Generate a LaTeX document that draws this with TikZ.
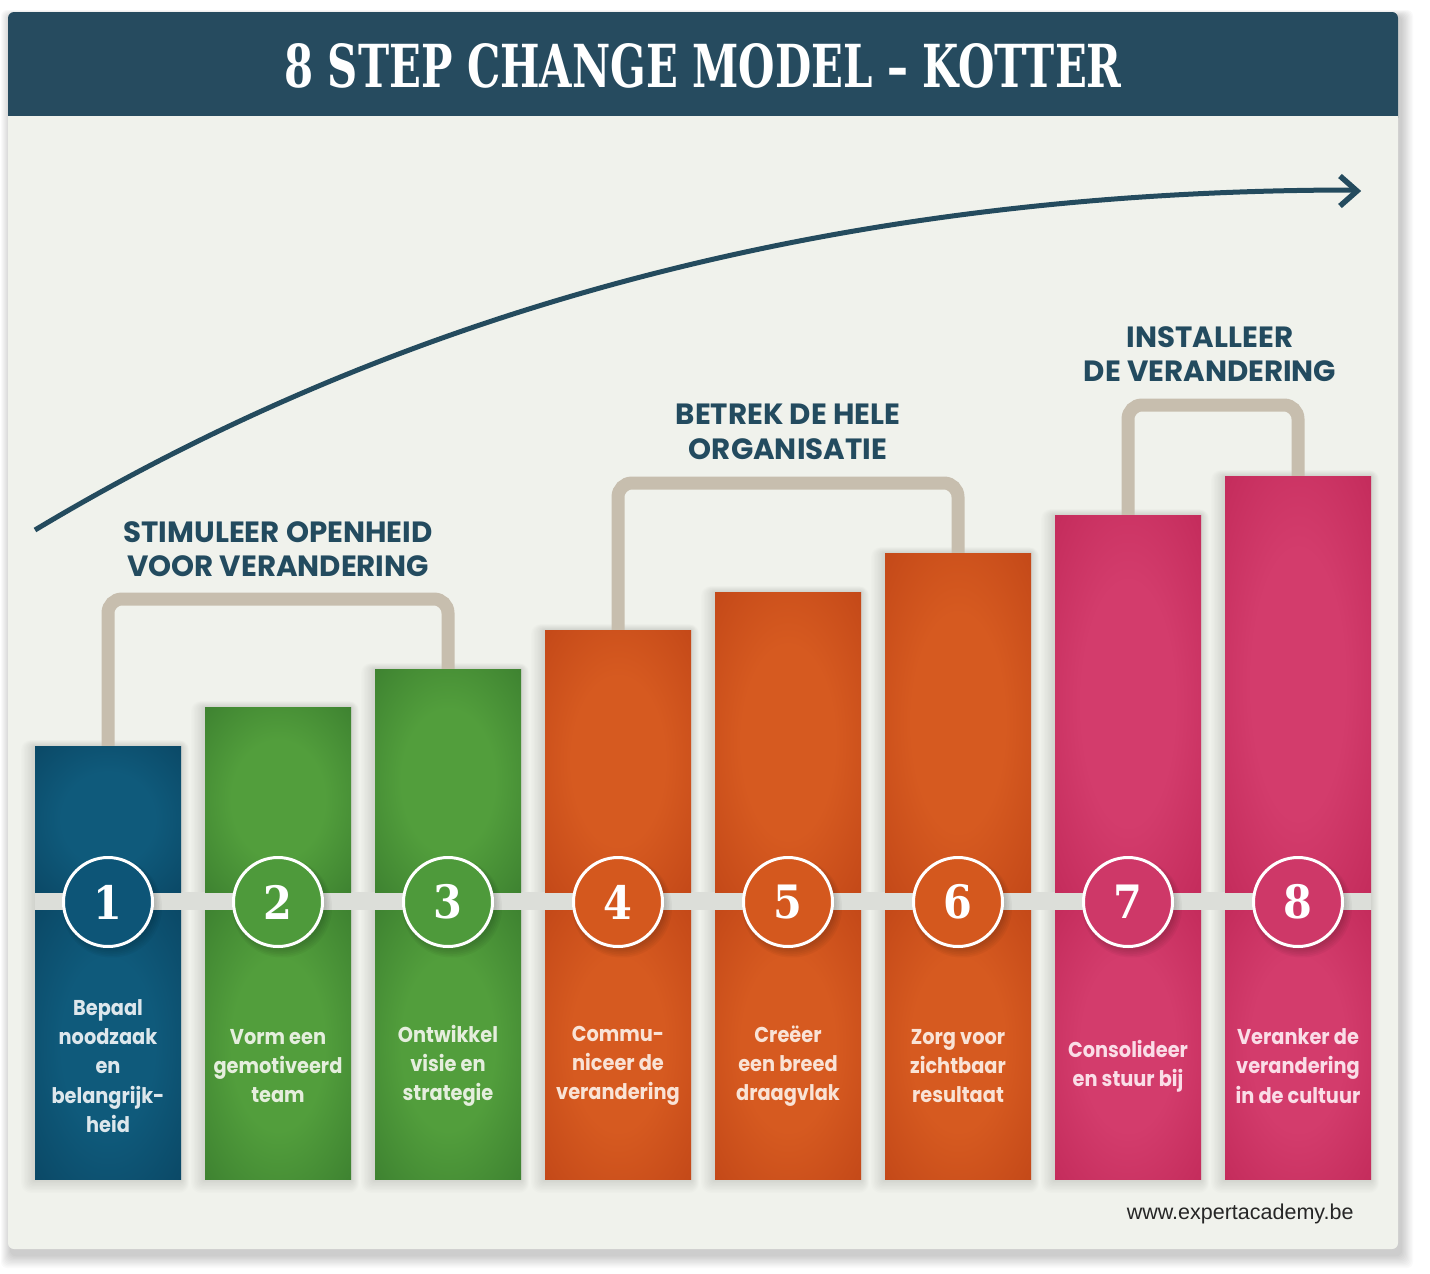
\documentclass[tikz,border=0pt]{standalone}
\usepackage{fontspec}
\setmainfont{Poppins}
\newfontfamily\barf[FakeStretch=0.9]{Poppins}
\newfontfamily\titlef{DejaVu Serif Condensed}
\newfontfamily\webf{Liberation Sans}
\definecolor{hdr}{HTML}{264B5F}
\definecolor{panelbg}{HTML}{F0F2EC}
\definecolor{bandc}{HTML}{DCDED9}
\definecolor{brk}{HTML}{C7BEAE}
\definecolor{lbl}{HTML}{234B5F}
\definecolor{arrc}{HTML}{244B5E}
\definecolor{bIn}{HTML}{0F5A7B}\definecolor{bOut}{HTML}{073A55}\definecolor{bC}{HTML}{0D5577}\definecolor{bT}{HTML}{DDE7EC}
\definecolor{gIn}{HTML}{529E3C}\definecolor{gOut}{HTML}{2D6B27}\definecolor{gC}{HTML}{4E9A3B}\definecolor{gT}{HTML}{E5EEDD}
\definecolor{oIn}{HTML}{D65A20}\definecolor{oOut}{HTML}{B43A12}\definecolor{oC}{HTML}{D4581E}\definecolor{oT}{HTML}{F9E3D6}
\definecolor{pIn}{HTML}{D33C6C}\definecolor{pOut}{HTML}{B71E4E}\definecolor{pC}{HTML}{CE3868}\definecolor{pT}{HTML}{FADDE7}
\colorlet{barin}{bIn}\colorlet{barout}{bOut}
\pgfdeclareradialshading[barin,barout]{barshade}{\pgfpoint{0bp}{0bp}}{color(0bp)=(barin); color(16bp)=(barin); color(52bp)=(barout)}
\tikzset{
  bracket/.style={draw=brk, line width=13pt, rounded corners=14pt},
  grp/.style={text=lbl, font=\bfseries\fontsize{29.3}{34.5}\selectfont, align=center, inner sep=0pt},
  bartext/.style={font=\barf\bfseries\fontsize{21.5}{29.3}\selectfont, align=center, inner sep=0pt},
  numc/.style={circle, draw=white, line width=3pt, minimum size=89pt, inner sep=0pt, text=white, font=\titlef\bfseries\fontsize{46}{46}\selectfont},
}
\begin{document}
\begin{tikzpicture}[x=1pt,y=-1pt]
\useasboundingbox (0,0) rectangle (1430,1274);
\fill[white] (0,0) rectangle (1430,1274);
% panel shadow
\foreach \k in {1,...,10}{
  \fill[black, opacity=0.02, rounded corners=6pt] (11-\k, 16-0.6*\k) rectangle (1401+1.2*\k, 1255+1.3*\k);
}
\fill[panelbg, rounded corners=6pt] (8,12) rectangle (1398,1249);
\fill[hdr, rounded corners=6pt] (8,12) rectangle (1398,124);
\fill[panelbg] (8,116) rectangle (1398,126);
\node[text=white] (title) at (703,66) {\resizebox{837pt}{44pt}{\titlef\bfseries 8 STEP CHANGE MODEL – KOTTER}};
% rising arrow
\coordinate (arrS) at (35,530);
\coordinate (arrE) at (1354,190);
\draw[arrc, line width=5pt] (arrS) .. controls (415,302) and (856,190) .. (arrE);
\draw[arrc, line width=5.5pt, miter limit=10] (1340,176) -- (1357,191) -- (1340,206);
% bar shadows and coordinates
\foreach \i/\top in {1/746,2/707,3/669,4/630,5/592,6/553,7/515,8/476}{
  \pgfmathsetmacro\xl{35+170*(\i-1)}
  \pgfmathsetmacro\xr{\xl+146}
  \pgfmathsetmacro\xc{\xl+73}
  \coordinate (t\i) at (\xc,\top);
  \foreach \k in {1,...,10}{
    \fill[black, opacity=0.012, rounded corners=\k pt] (\xl-1.4*\k,\top-0.6*\k) rectangle (\xr+0.8*\k,1179+1.4*\k);
  }
}
% brackets
\coordinate (g1) at (278,599);
\coordinate (g2) at (788,483);
\coordinate (g3) at (1212,405);
\draw[bracket] (t1) |- (g1) -| (t3);
\draw[bracket] (t4) |- (g2) -| (t6);
\draw[bracket] (t7) |- (g3) -| (t8);
% group labels
\node[grp] (lab1) at (278,549) {STIMULEER OPENHEID\\VOOR VERANDERING};
\node[grp] (lab2) at (788,432) {BETREK DE HELE\\ORGANISATIE};
\node[grp] (lab3) at (1210,354) {INSTALLEER\\DE VERANDERING};
% band
\fill[bandc] (35,892) rectangle (1371,910);
% bars
\foreach \i/\top/\cc/\txt in {1/746/b/{Bepaal\\noodzaak\\en\\belangrijk-\\heid},2/707/g/{Vorm een\\gemotiveerd\\team},3/669/g/{Ontwikkel\\visie en\\strategie},4/630/o/{Commu-\\niceer de\\verandering},5/592/o/{Creëer\\een breed\\draagvlak},6/553/o/{Zorg voor\\zichtbaar\\resultaat},7/515/p/{Consolideer\\en stuur bij},8/476/p/{Veranker de\\verandering\\in de cultuur}}{
  \pgfmathsetmacro\xl{35+170*(\i-1)}
  \pgfmathsetmacro\xr{\xl+146}
  \pgfmathsetmacro\xc{\xl+73}
  \colorlet{barin}{\cc In}\colorlet{barout}{\cc Out}
  \shade[shading=barshade] (\xl,\top) rectangle (\xr,892);
  \shade[shading=barshade] (\xl,910) rectangle (\xr,1179);
  \foreach \k in {1,...,5}{
    \fill[black, opacity=0.035] (\xc+2+0.4*\k,905+0.5*\k) circle ({44+1.2*\k});
  }
  \node[numc, fill=\cc C] (n\i) at (\xc,902) {\i};
  \node[bartext, text=\cc T] (s\i) at (\xc,1066) {\txt};
}
\node[font=\webf\fontsize{21.5}{24}\selectfont, text=black!85, anchor=east] (web) at (1357,1214) {www.expertacademy.be};
\end{tikzpicture}
\end{document}
